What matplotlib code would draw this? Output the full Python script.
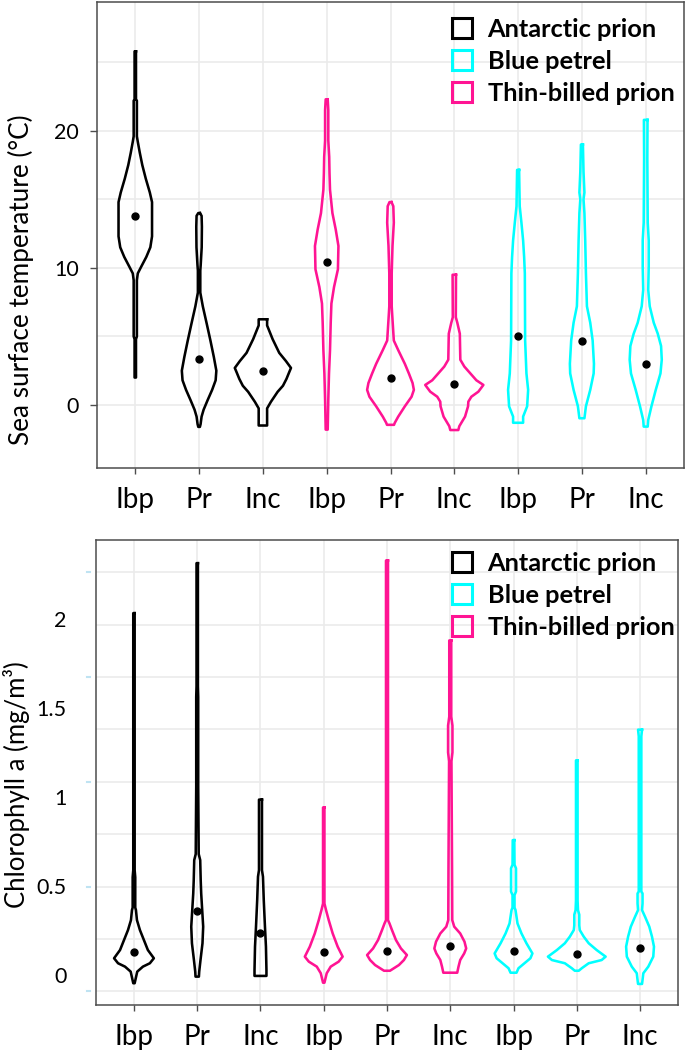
import numpy as np
import matplotlib
matplotlib.use('Agg')
import matplotlib.pyplot as plt
import matplotlib.transforms as mtransforms
from matplotlib.patches import Patch

plt.rcParams['font.family'] = ['Lato', 'DejaVu Sans']

# x categories (same three phases for every species)
phases = ['Ibp', 'Pr', 'Inc']
# species in plotting order along the x axis
species = ['Antarctic prion', 'Thin-billed prion', 'Blue petrel']
legend_order = ['Antarctic prion', 'Blue petrel', 'Thin-billed prion']
colors = {'Antarctic prion': 'black', 'Blue petrel': '#00FFFF', 'Thin-billed prion': '#FF1493'}

# ---- Sea surface temperature: violin outline levels (top -> bottom) and half widths ----
sst_ap_levels = [
    [25.8, 22.3, 22.2, 19.6, 19.2, 18.4, 17.5, 16.5, 15.5, 14.8, 12.3, 11.5, 10.8, 10.1, 9.6, 9.1, 5.0, 4.8, 2.0],
    [14.0, 13.8, 13.0, 11.5, 10.2, 9.8, 8.2, 7.2, 5.9, 4.7, 3.5, 2.5, 1.8, 1.1, 0.35, -0.35, -0.85, -1.4, -1.6],
    [6.25, 5.8, 4.8, 3.8, 3.2, 2.7, 2.35, 1.9, 1.4, 0.96, 0.23, -0.25, -1.5],
]
sst_ap_widths = [
    [0.7, 0.7, 1.6, 1.6, 2.5, 4.5, 7, 10.5, 14.5, 16.7, 16.7, 15, 11, 6, 2.5, 1.6, 1.6, 0.7, 0.7],
    [0.8, 2.5, 2.8, 2.6, 1.6, 1.2, 1.2, 3.7, 7.7, 11.3, 14.7, 17.2, 16.5, 13, 8.5, 4.5, 2.5, 1.5, 0.8],
    [4.2, 4.2, 9.7, 16.3, 23, 28, 26, 23.5, 20, 14.7, 8, 4.2, 4.2],
]
sst_ap_means = [13.8, 3.33, 2.5]

sst_tbp_levels = [
    [22.3, 21.5, 19.3, 18.1, 16.9, 15.7, 14.0, 12.8, 11.6, 9.9, 8.6, 7.4, 6.0, 4.0, 2.3, 0.4, -1.8],
    [14.8, 14.5, 13.3, 11.6, 9.6, 7.2, 6.7, 4.7, 4.0, 3.0, 2.3, 1.6, 1.1, 0.6, -0.1, -0.85, -1.3, -1.45],
    [9.5, 6.4, 6.0, 5.2, 3.3, 2.8, 2.3, 1.8, 1.46, 0.97, 0.6, 0.24, -0.1, -0.85, -1.55, -1.83],
]
sst_tbp_widths = [
    [1.0, 1.6, 1.6, 2.5, 2.8, 3.3, 5.7, 9, 11.7, 11.2, 7.3, 4.7, 4, 3.3, 2.3, 1.6, 1.0],
    [1.0, 2.8, 3.3, 2.0, 1.2, 1.2, 1.6, 3.3, 7.7, 14.3, 18.3, 22, 23.3, 21, 14.3, 7.7, 4.3, 3.5],
    [1.7, 1.5, 3, 5.5, 6, 10, 16, 22, 29, 24, 17, 14, 13.7, 10.7, 5, 4],
]
sst_tbp_means = [10.4, 2.0, 1.5]

sst_bp_levels = [
    [17.15, 14.5, 13.3, 12.0, 10.8, 9.6, 4.7, 2.3, 1.1, -0.1, -0.85, -1.3],
    [19.0, 17.0, 15.5, 15.0, 14.0, 12.0, 9.6, 7.2, 6.0, 4.7, 3.0, 2.3, 1.1, -0.1, -0.97],
    [20.8, 18.0, 13.3, 12.0, 10.1, 8.4, 7.2, 6.0, 5.2, 4.3, 3.3, 2.3, 1.1, -0.1, -1.1, -1.58],
]
sst_bp_widths = [
    [1.0, 1.6, 3.3, 5, 6, 6.7, 7, 8.3, 10, 9, 5, 5],
    [1.0, 1.6, 2.5, 1.6, 2.5, 3.3, 4, 5, 8.3, 10.7, 12, 11.7, 8.3, 4, 2.5],
    [1.8, 1.6, 2, 3, 3, 2.5, 4, 8, 12, 15.3, 16, 14.7, 10, 5.7, 2.5, 2],
]
sst_bp_means = [5.0, 4.7, 3.0]

# ---- Chlorophyll a ----
chl_ap_levels = [
    [2.03, 0.59, 0.55, 0.38, 0.366, 0.31, 0.254, 0.198, 0.142, 0.096, 0.068, 0.049, 0.021, -0.044],
    [2.31, 1.62, 1.56, 1.06, 0.68, 0.646, 0.534, 0.459, 0.366, 0.273, 0.18, 0.086, 0.021, -0.007],
    [0.985, 0.59, 0.553, 0.422, 0.273, 0.161, 0.03, -0.003],
]
chl_ap_widths = [
    [0.7, 0.7, 1.3, 1.3, 2, 3, 6, 10, 14, 20, 16, 9, 3.3, 0.7],
    [0.7, 0.7, 1.0, 1.0, 1.5, 3, 3.5, 4, 5, 6, 5.3, 3.3, 2, 1.7],
    [1.5, 1.5, 2.5, 3.3, 4.5, 5.5, 6, 6],
]
chl_ap_means = [0.129, 0.362, 0.239]

chl_tbp_levels = [
    [0.941, 0.403, 0.366, 0.31, 0.235, 0.161, 0.105, 0.077, 0.049, 0.012, -0.041],
    [2.325, 0.31, 0.291, 0.254, 0.198, 0.151, 0.114, 0.086, 0.058, 0.026],
    [1.877, 1.45, 1.40, 1.25, 1.2, 0.6, 0.31, 0.273, 0.235, 0.189, 0.151, 0.123, 0.086, 0.049, 0.015],
]
chl_tbp_widths = [
    [0.7, 0.7, 2.3, 5, 9, 14, 19, 15, 7, 3, 0.7],
    [1.0, 1.0, 2.5, 5, 9, 14, 20, 17, 12, 3],
    [1.0, 1.0, 2.2, 2.2, 1.2, 1.8, 2, 4, 10, 14.3, 16, 14, 10, 8.3, 7],
]
chl_tbp_means = [0.133, 0.138, 0.166]

chl_bp_levels = [
    [0.758, 0.62, 0.6, 0.47, 0.45, 0.38, 0.366, 0.291, 0.235, 0.18, 0.123, 0.096, 0.068, 0.04, 0.015],
    [1.205, 0.42, 0.366, 0.34, 0.28, 0.254, 0.217, 0.18, 0.142, 0.105, 0.086, 0.068, 0.04, 0.026],
    [1.377, 1.34, 0.47, 0.459, 0.403, 0.366, 0.329, 0.273, 0.217, 0.161, 0.105, 0.049, 0.012, -0.026, -0.048],
]
chl_bp_widths = [
    [0.8, 1.0, 2.5, 2.5, 1.0, 1.0, 2, 4, 8, 13, 19, 17, 11, 5, 3],
    [0.8, 0.8, 1.2, 2.5, 2.5, 3, 7, 12, 20, 29, 25, 12, 5, 2],
    [2, 1.3, 1.3, 2.5, 2.5, 2, 5, 9.3, 12, 14, 13.3, 8.3, 3.3, 2.5, 2],
]
chl_bp_means = [0.137, 0.118, 0.155]

grid_col = '#EBEBEB'
spine_col = '#4D4D4D'
px_per_cat = 63.6


def draw_group(ax, levels, widths, means, color, start):
    for i in range(3):
        xc = start + i
        y = np.array(levels[i])
        w = np.array(widths[i]) / px_per_cat
        xs = np.concatenate([xc + w, (xc - w)[::-1], [xc + w[0]]])
        ys = np.concatenate([y, y[::-1], [y[0]]])
        ax.plot(xs, ys, color=color, lw=1.85, solid_joinstyle='round', zorder=3)
        ax.plot(xc, means[i], 'o', color='black', ms=5, zorder=4)


def style_axes(ax, legend_top):
    ax.set_xlim(0.4, 9.6)
    ax.set_xticks(range(1, 10))
    ax.set_xticklabels(phases * 3, fontsize=20)
    offset = mtransforms.ScaledTranslation(4 / 100, 0, ax.figure.dpi_scale_trans)
    for lab in ax.get_xticklabels():
        lab.set_transform(lab.get_transform() + offset)
    ax.tick_params(axis='x', length=4, width=1, color=spine_col, pad=10)
    ax.grid(axis='x', color=grid_col, lw=1.2, zorder=0)
    for s in ax.spines.values():
        s.set_color(spine_col)
        s.set_linewidth(1.1)
    handles = [Patch(facecolor='none', edgecolor=colors[sp], lw=2.2, label=sp) for sp in legend_order]
    ax.legend(handles=handles, loc='upper left', frameon=False,
              prop={'weight': 'bold', 'size': 18.3}, handlelength=0.8, handleheight=0.8,
              handletextpad=0.6, labelspacing=0.35, borderpad=0, borderaxespad=0,
              bbox_to_anchor=(452 / 685, 1 - legend_top / 1051), bbox_transform=ax.figure.transFigure)


fig = plt.figure(figsize=(6.85, 10.51), dpi=100)
ax1 = fig.add_axes([97 / 685, 1 - 468 / 1051, 587 / 685, 466 / 1051])
ax2 = fig.add_axes([96 / 685, 1 - 1005 / 1051, 582 / 685, 465 / 1051])

groups_sst = [(sst_ap_levels, sst_ap_widths, sst_ap_means),
              (sst_tbp_levels, sst_tbp_widths, sst_tbp_means),
              (sst_bp_levels, sst_bp_widths, sst_bp_means)]
groups_chl = [(chl_ap_levels, chl_ap_widths, chl_ap_means),
              (chl_tbp_levels, chl_tbp_widths, chl_tbp_means),
              (chl_bp_levels, chl_bp_widths, chl_bp_means)]

for k, sp in enumerate(species):
    draw_group(ax1, *groups_sst[k], colors[sp], 1 + 3 * k)
    draw_group(ax2, *groups_chl[k], colors[sp], 1 + 3 * k)

# top panel
style_axes(ax1, 18)
ax1.set_ylim(-4.6, 29.4)
ax1.set_yticks([0, 10, 20])
ax1.set_yticklabels(['0', '10', '20'], fontsize=15.5)
ax1.set_yticks([5, 15, 25], minor=True)
ax1.tick_params(axis='y', which='major', length=5, width=1, color=spine_col, pad=8)
ax1.tick_params(axis='y', which='minor', length=0)
ax1.grid(axis='y', which='both', color=grid_col, lw=1.2, zorder=0)

# bottom panel: labels sit on their own scale, gridlines on the original one
style_axes(ax2, 552)
ax2.set_ylim(-0.166, 2.44)
ax2.set_yticks([0, 0.5, 1, 1.5, 2])
ax2.set_yticklabels(['0', '0.5', '1', '1.5', '2'], fontsize=15.5)
ax2.tick_params(axis='y', which='major', length=0, pad=21)
grid_pos = -0.090 + 0.29375 * np.arange(9)
ax2.set_yticks(grid_pos, minor=True)
ax2.tick_params(axis='y', which='minor', length=0)
ax2.grid(axis='y', which='minor', color=grid_col, lw=1.2, zorder=0)
trans = mtransforms.blended_transform_factory(ax2.transAxes, ax2.transData)
for g in grid_pos[::2]:
    ax2.plot([-0.0155, -0.0105], [g, g], color='#BFE3F2', lw=1.5, transform=trans, clip_on=False)

fig.text(21 / 685, 1 - 280 / 1051, 'Sea surface temperature (°C)', rotation=90,
         ha='center', va='center', fontsize=18.8)
fig.text(17 / 685, 1 - 785 / 1051, 'Chlorophyll a (mg/m³)', rotation=90,
         ha='center', va='center', fontsize=18.5)

fig.savefig('out.png', dpi=100)
